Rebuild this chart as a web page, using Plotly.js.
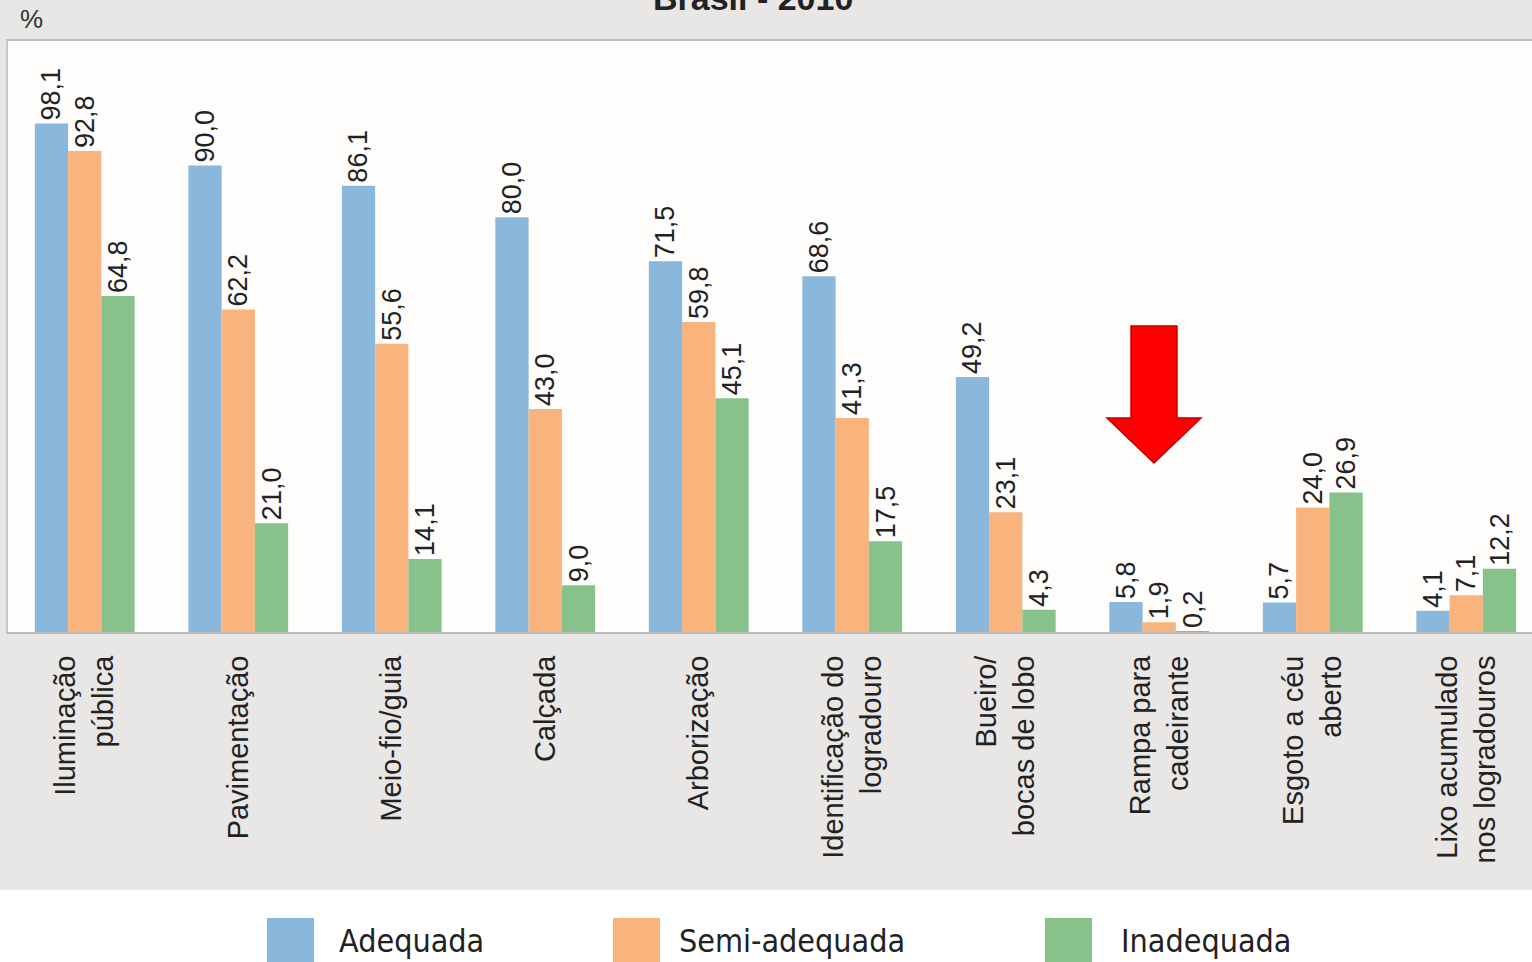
<!DOCTYPE html>
<html>
<head>
<meta charset="utf-8">
<script src="https://cdn.plot.ly/plotly-3.0.1.min.js"></script>
<style>html,body{margin:0;padding:0;background:#e8e7e6;}#chart{width:1532px;height:962px;}</style>
</head>
<body>
<div id="chart"></div>
<script>
const categories = ['Iluminação<br>pública','Pavimentação','Meio-fio/guia','Calçada','Arborização','Identificação do<br>logradouro','Bueiro/<br>bocas de lobo','Rampa para<br>cadeirante','Esgoto a céu<br>aberto','Lixo acumulado<br>nos logradouros'];
const seriesNames = ['Adequada','Semi-adequada','Inadequada'];
const adequada = [98.1, 90.0, 86.1, 80.0, 71.5, 68.6, 49.2, 5.8, 5.7, 4.1];
const semiAdequada = [92.8, 62.2, 55.6, 43.0, 59.8, 41.3, 23.1, 1.9, 24.0, 7.1];
const inadequada = [64.8, 21.0, 14.1, 9.0, 45.1, 17.5, 4.3, 0.2, 26.9, 12.2];
const colors = ['#8ab8dc','#f8b47c','#87c28b'];

const W = 1532, H = 962, L = 8, T = 41, B = 330, R = 0;
const PW = W - L - R, PH = H - T - B;
const px2x = p => (p - L) / PW;
const py2y = p => (H - B - p) / PH;

const idx = categories.map((_, i) => i);
function mk(vals, i) {
  return {
    type: 'bar', x: idx, y: vals, name: seriesNames[i],
    marker: {color: colors[i], line: {width: 0}},
    texttemplate: '%{y:.1f}', textposition: 'outside', textangle: -90,
    constraintext: 'none', cliponaxis: false,
    textfont: {family: 'Liberation Sans, Arial, sans-serif', size: 27, color: '#222'},
    hoverinfo: 'skip', showlegend: false
  };
}
const data = [mk(adequada,0), mk(semiAdequada,1), mk(inadequada,2)];

const shapes = [
  {type:'rect', xref:'paper', yref:'paper', x0:px2x(-10), x1:px2x(W+10), y0:py2y(890), y1:py2y(H+10), fillcolor:'#ffffff', line:{width:0}, layer:'below'},
  {type:'path', xref:'paper', yref:'paper', fillcolor:'#ff0000', line:{color:'#c00000', width:1.5},
   path: 'M '+[[1131,326],[1177,326],[1177,418],[1201,418],[1154,463],[1107,418],[1131,418]].map(p=>px2x(p[0])+','+py2y(p[1])).join(' L ')+' Z'}
];
const annotations = [
  {xref:'paper', yref:'paper', x:px2x(753), y:py2y(-2), text:'<b>Brasil - 2010</b>', showarrow:false, xanchor:'center', yanchor:'middle', font:{family:'Liberation Sans, Arial, sans-serif', size:34, color:'#222'}},
  {xref:'paper', yref:'paper', x:px2x(31), y:py2y(19), text:'%', showarrow:false, xanchor:'center', yanchor:'middle', font:{family:'Liberation Sans, Arial, sans-serif', size:26, color:'#333'}}
];
const legX = [[267,337],[613,677],[1045,1119]];
seriesNames.forEach((n,i)=>{
  shapes.push({type:'rect', xref:'paper', yref:'paper', x0:px2x(legX[i][0]), x1:px2x(legX[i][0]+47), y0:py2y(918), y1:py2y(H+5), fillcolor:colors[i], line:{width:0}});
  annotations.push({xref:'paper', yref:'paper', x:px2x(legX[i][1]), y:py2y(941), text:n, showarrow:false, xanchor:'left', yanchor:'middle', font:{family:'Liberation Sans Narrow, DejaVu Sans Condensed, Arial Narrow, sans-serif', size:32, color:'#222'}});
});

const layout = {
  width: W, height: H,
  margin: {l: L, r: R, t: T, b: B, pad: 0},
  paper_bgcolor: '#e8e7e6', plot_bgcolor: '#fefdfc',
  separators: ',.',
  barmode: 'group', bargap: 0.35, bargroupgap: 0,
  showlegend: false,
  xaxis: {
    range: [-0.5, -0.5 + PW/153.5], tickvals: idx, ticktext: categories,
    tickangle: -90, ticks: '', showgrid: false, zeroline: false,
    showline: true, linecolor: '#bdbdbd', linewidth: 2, mirror: true,
    ticklabelstandoff: 10,
    tickfont: {family: 'Liberation Sans, Arial, sans-serif', size: 29, color: '#222'}
  },
  yaxis: {
    range: [0, 114], showticklabels: false, ticks: '', showgrid: false, zeroline: false,
    showline: true, linecolor: '#c8c8c8', linewidth: 2
  },
  shapes: shapes, annotations: annotations
};
Plotly.newPlot('chart', data, layout, {staticPlot: true});
</script>
</body>
</html>
